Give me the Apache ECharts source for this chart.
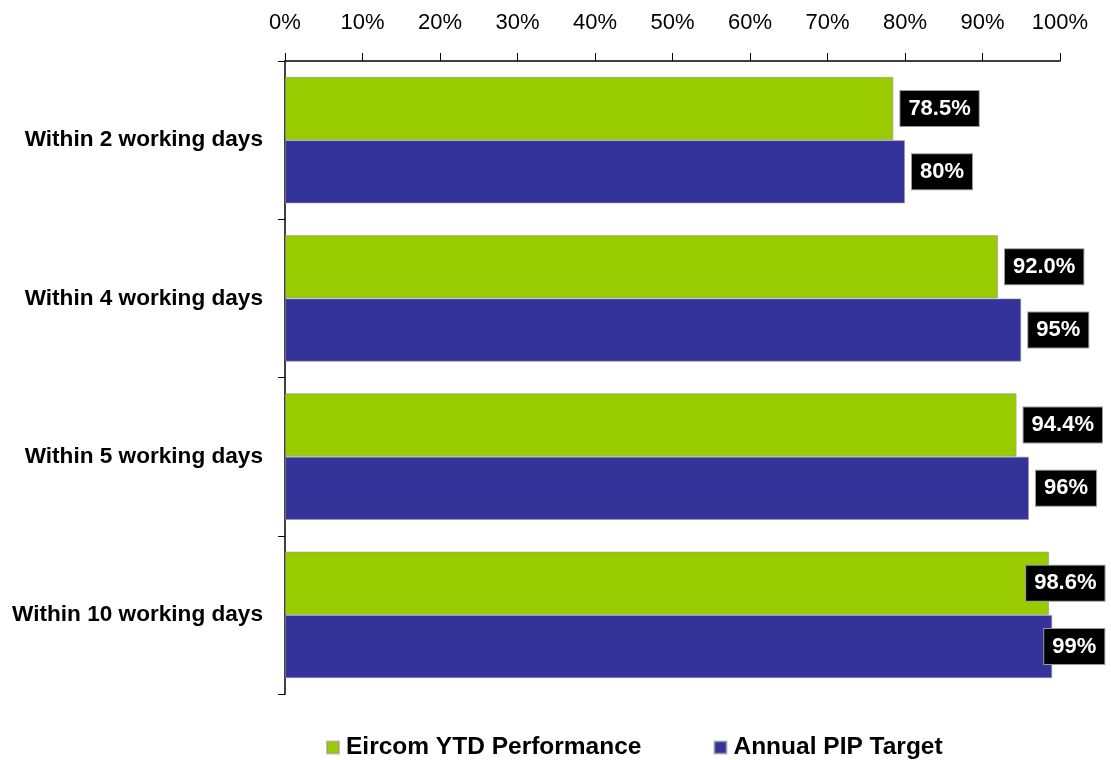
<!DOCTYPE html>
<html>
<head>
<meta charset="utf-8">
<script src="https://cdn.jsdelivr.net/npm/echarts@6/dist/echarts.min.js"></script>
<style>
html,body{margin:0;padding:0;background:#fff;}
#c{width:1111px;height:760px;}
</style>
</head>
<body>
<div id="c"></div>
<script>
const categories = ['Within 2 working days', 'Within 4 working days', 'Within 5 working days', 'Within 10 working days'];
const eircomYTD = [78.5, 92.0, 94.4, 98.6];
const pipTarget = [80, 95, 96, 99];
const eircomLabels = ['78.5%', '92.0%', '94.4%', '98.6%'];
const pipLabels = ['80%', '95%', '96%', '99%'];
const xTicks = [0, 10, 20, 30, 40, 50, 60, 70, 80, 90, 100];

const FONT = '"Liberation Sans", Arial, sans-serif';

// label shifts so boxes stay inside the plot on the right edge (style only)
const eircomShift = [0, 0, 0, -30];
const pipShift = [0, 0, 0, -15];

function buildData(values, labels, shifts) {
  return values.map((v, i) => ({
    value: v,
    label: { formatter: labels[i], offset: [shifts[i], 0] }
  }));
}

const labelStyle = {
  show: true,
  position: 'right',
  distance: 7,
  color: '#fff',
  fontFamily: FONT,
  fontWeight: 'bold',
  fontSize: 22,
  lineHeight: 23,
  backgroundColor: '#000',
  borderColor: '#999',
  borderWidth: 1,
  padding: [6, 8]
};

const chart = echarts.init(document.getElementById('c'), null, { renderer: 'canvas' });
chart.setOption({
  animation: false,
  backgroundColor: '#fff',
  grid: { left: 285, right: 51, top: 61, bottom: 66, containLabel: false },
  legend: {
    left: 321,
    top: 730,
    itemWidth: 12,
    itemHeight: 12,
    itemGap: 72,
    icon: 'rect',
    textStyle: { fontFamily: FONT, fontWeight: 'bold', fontSize: 24.5, color: '#000', padding: [0, 0, 0, 2] },
    data: ['Eircom YTD Performance', 'Annual PIP Target']
  },
  xAxis: {
    type: 'value',
    position: 'top',
    min: xTicks[0],
    max: xTicks[xTicks.length - 1],
    interval: xTicks[1] - xTicks[0],
    axisLine: { show: true, lineStyle: { color: '#000', width: 1.5 } },
    axisTick: { show: true, length: 8, lineStyle: { color: '#000', width: 1 } },
    splitLine: { show: false },
    axisLabel: { formatter: '{value}%', fontFamily: FONT, fontSize: 22, color: '#000', margin: 27 }
  },
  yAxis: {
    type: 'category',
    inverse: true,
    data: categories,
    axisLine: { show: true, lineStyle: { color: '#000', width: 1.5 } },
    axisTick: { show: true, length: 7, lineStyle: { color: '#000', width: 1 } },
    axisLabel: { fontFamily: FONT, fontWeight: 'bold', fontSize: 22.6, color: '#000', margin: 22 }
  },
  series: [
    {
      name: 'Eircom YTD Performance',
      type: 'bar',
      barGap: '0%',
      barCategoryGap: '20%',
      itemStyle: { color: '#99CC00', borderColor: 'rgba(150,150,150,0.6)', borderWidth: 1 },
      label: labelStyle,
      data: buildData(eircomYTD, eircomLabels, eircomShift)
    },
    {
      name: 'Annual PIP Target',
      type: 'bar',
      barGap: '0%',
      barCategoryGap: '20%',
      itemStyle: { color: '#333399', borderColor: 'rgba(150,150,150,0.6)', borderWidth: 1 },
      label: labelStyle,
      data: buildData(pipTarget, pipLabels, pipShift)
    }
  ]
});
</script>
</body>
</html>
